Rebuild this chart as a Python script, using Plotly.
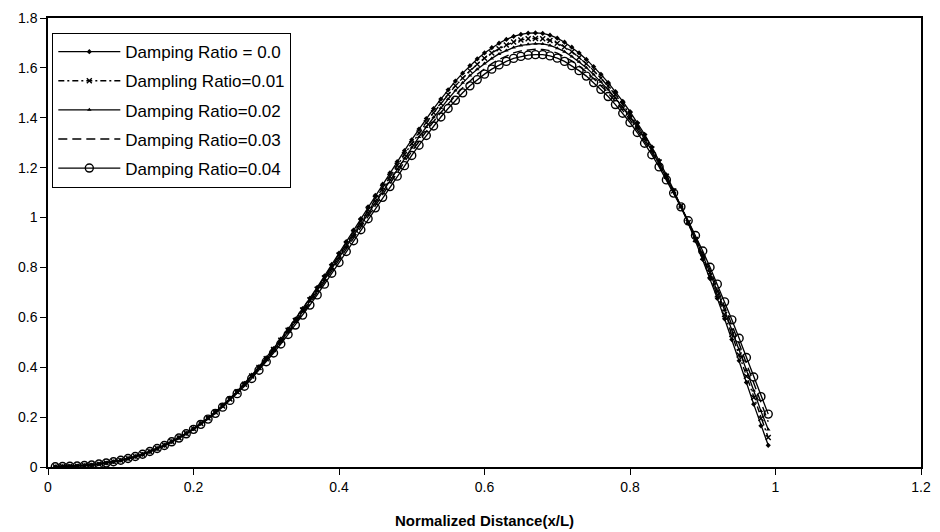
import plotly.graph_objects as go

x_vals = [round(0.01 * i, 2) for i in range(1, 100)]

damp_00 = [0.001, 0.002, 0.003, 0.004, 0.006, 0.008, 0.012, 0.016, 0.021, 0.027,
           0.034, 0.042, 0.051, 0.062, 0.074, 0.087, 0.102, 0.118, 0.135, 0.154,
           0.175, 0.197, 0.221, 0.247, 0.275, 0.304, 0.335, 0.368, 0.402, 0.438,
           0.475, 0.513, 0.553, 0.593, 0.635, 0.677, 0.720, 0.766, 0.812, 0.858,
           0.904, 0.950, 0.996, 1.043, 1.089, 1.134, 1.179, 1.224, 1.268, 1.312,
           1.355, 1.397, 1.437, 1.475, 1.512, 1.547, 1.579, 1.609, 1.636, 1.660,
           1.681, 1.699, 1.714, 1.726, 1.734, 1.739, 1.740, 1.738, 1.731, 1.719,
           1.703, 1.683, 1.660, 1.634, 1.605, 1.574, 1.541, 1.505, 1.466, 1.425,
           1.381, 1.334, 1.283, 1.229, 1.171, 1.110, 1.045, 0.977, 0.906, 0.832,
           0.755, 0.676, 0.594, 0.511, 0.426, 0.339, 0.252, 0.165, 0.087]

damp_01 = [0.001, 0.002, 0.003, 0.004, 0.006, 0.008, 0.012, 0.016, 0.021, 0.027,
           0.034, 0.042, 0.051, 0.062, 0.074, 0.087, 0.102, 0.117, 0.134, 0.153,
           0.174, 0.196, 0.220, 0.245, 0.273, 0.302, 0.332, 0.365, 0.399, 0.434,
           0.471, 0.508, 0.548, 0.587, 0.629, 0.670, 0.713, 0.758, 0.803, 0.849,
           0.894, 0.939, 0.985, 1.031, 1.077, 1.121, 1.165, 1.210, 1.253, 1.296,
           1.339, 1.380, 1.420, 1.457, 1.493, 1.528, 1.559, 1.589, 1.615, 1.639,
           1.660, 1.677, 1.692, 1.704, 1.712, 1.717, 1.718, 1.717, 1.710, 1.699,
           1.684, 1.665, 1.642, 1.617, 1.589, 1.559, 1.527, 1.492, 1.454, 1.414,
           1.371, 1.325, 1.275, 1.223, 1.166, 1.107, 1.045, 0.980, 0.912, 0.841,
           0.767, 0.690, 0.611, 0.531, 0.449, 0.364, 0.279, 0.194, 0.118]

damp_02 = [0.001, 0.002, 0.003, 0.004, 0.006, 0.008, 0.012, 0.016, 0.021, 0.027,
           0.034, 0.042, 0.051, 0.062, 0.074, 0.086, 0.101, 0.117, 0.134, 0.153,
           0.173, 0.195, 0.218, 0.244, 0.271, 0.299, 0.330, 0.362, 0.395, 0.430,
           0.466, 0.503, 0.542, 0.581, 0.622, 0.663, 0.705, 0.750, 0.795, 0.839,
           0.884, 0.929, 0.974, 1.019, 1.064, 1.108, 1.152, 1.195, 1.238, 1.281,
           1.323, 1.363, 1.402, 1.439, 1.475, 1.509, 1.540, 1.569, 1.595, 1.618,
           1.638, 1.656, 1.670, 1.682, 1.690, 1.695, 1.697, 1.696, 1.690, 1.679,
           1.665, 1.646, 1.625, 1.601, 1.573, 1.544, 1.513, 1.479, 1.442, 1.403,
           1.361, 1.316, 1.268, 1.216, 1.161, 1.104, 1.044, 0.982, 0.917, 0.849,
           0.778, 0.705, 0.628, 0.551, 0.471, 0.389, 0.307, 0.224, 0.150]

damp_03 = [0.001, 0.002, 0.003, 0.004, 0.006, 0.008, 0.012, 0.016, 0.021, 0.027,
           0.034, 0.042, 0.051, 0.062, 0.074, 0.086, 0.101, 0.116, 0.134, 0.152,
           0.172, 0.193, 0.217, 0.242, 0.269, 0.297, 0.327, 0.358, 0.392, 0.426,
           0.462, 0.498, 0.537, 0.575, 0.616, 0.656, 0.698, 0.741, 0.786, 0.830,
           0.874, 0.918, 0.962, 1.007, 1.052, 1.094, 1.138, 1.181, 1.223, 1.265,
           1.306, 1.346, 1.385, 1.421, 1.456, 1.489, 1.520, 1.548, 1.574, 1.596,
           1.617, 1.634, 1.648, 1.660, 1.668, 1.673, 1.675, 1.674, 1.669, 1.659,
           1.645, 1.628, 1.607, 1.584, 1.557, 1.529, 1.499, 1.466, 1.430, 1.392,
           1.351, 1.307, 1.260, 1.210, 1.156, 1.101, 1.044, 0.985, 0.923, 0.858,
           0.790, 0.719, 0.645, 0.570, 0.494, 0.414, 0.334, 0.253, 0.181]

damp_04 = [0.001, 0.002, 0.003, 0.004, 0.006, 0.008, 0.012, 0.016, 0.021, 0.027,
           0.034, 0.042, 0.051, 0.062, 0.074, 0.086, 0.101, 0.116, 0.133, 0.151,
           0.171, 0.192, 0.215, 0.240, 0.267, 0.294, 0.324, 0.355, 0.388, 0.422,
           0.457, 0.493, 0.531, 0.569, 0.609, 0.649, 0.690, 0.733, 0.777, 0.820,
           0.864, 0.907, 0.951, 0.995, 1.039, 1.081, 1.124, 1.166, 1.208, 1.249,
           1.290, 1.329, 1.367, 1.403, 1.437, 1.470, 1.500, 1.528, 1.553, 1.575,
           1.595, 1.612, 1.626, 1.638, 1.646, 1.651, 1.653, 1.653, 1.648, 1.639,
           1.626, 1.609, 1.589, 1.567, 1.541, 1.514, 1.485, 1.453, 1.418, 1.381,
           1.341, 1.298, 1.252, 1.203, 1.151, 1.098, 1.043, 0.987, 0.928, 0.866,
           0.801, 0.733, 0.662, 0.590, 0.516, 0.439, 0.361, 0.282, 0.212]

series_names = ["Damping Ratio = 0.0", "Dampling Ratio=0.01", "Damping Ratio=0.02",
                "Damping Ratio=0.03", "Damping Ratio=0.04"]
x_ticks = [0, 0.2, 0.4, 0.6, 0.8, 1, 1.2]
y_ticks = [0, 0.2, 0.4, 0.6, 0.8, 1, 1.2, 1.4, 1.6, 1.8]

styles = [
    dict(line=dict(color="black", width=1.3, dash="solid"),
         marker=dict(symbol="diamond", size=4, color="black"), mode="lines+markers"),
    dict(line=dict(color="black", width=1.4, dash="6px,3px,2px,3px"),
         marker=dict(symbol="x-thin", size=5, color="black", line=dict(color="black", width=1.4)),
         mode="lines+markers"),
    dict(line=dict(color="black", width=1.3, dash="solid"),
         marker=dict(symbol="triangle-up", size=4, color="black"), mode="lines+markers"),
    dict(line=dict(color="black", width=1.4, dash="9px,5px"), mode="lines"),
    dict(line=dict(color="black", width=1.3, dash="solid"),
         marker=dict(symbol="circle-open", size=8, color="black", line=dict(color="black", width=1.4)),
         mode="lines+markers"),
]

fig = go.Figure()
for i, (name, ys, st) in enumerate(zip(series_names,
                                       [damp_00, damp_01, damp_02, damp_03, damp_04], styles)):
    fig.add_trace(go.Scatter(x=x_vals, y=ys, name=name, legendgroup=f"g{i}", **st))

font_family = "Liberation Sans, Arial"
axis_common = dict(
    showgrid=False, zeroline=False, showline=True, linecolor="black", linewidth=1.5,
    mirror=True, ticks="outside", ticklen=6, tickcolor="black", tickwidth=1.2,
    tickfont=dict(family=font_family, size=14, color="black"), automargin=False,
)

fig.update_layout(
    width=940, height=532,
    paper_bgcolor="white", plot_bgcolor="white",
    margin=dict(l=48, r=19, t=18, b=65),
    xaxis=dict(range=[0, 1.2], tickvals=x_ticks, ticktext=[str(v) for v in x_ticks],
               title=dict(text="<b>Normalized Distance(x/L)</b>",
                          font=dict(family=font_family, size=15, color="black"),
                          standoff=22),
               **axis_common),
    yaxis=dict(range=[0, 1.8], tickvals=y_ticks, ticktext=[str(v) for v in y_ticks],
               **axis_common),
    legend=dict(x=0.0046, y=0.967, xanchor="left", yanchor="top",
                bgcolor="white", bordercolor="black", borderwidth=1.3,
                font=dict(family=font_family, size=17, color="black"),
                tracegroupgap=4, itemwidth=62),
    showlegend=True,
)

fig.write_html("out.html", config={"displayModeBar": False},
               post_script="document.body.style.margin='0px';")
